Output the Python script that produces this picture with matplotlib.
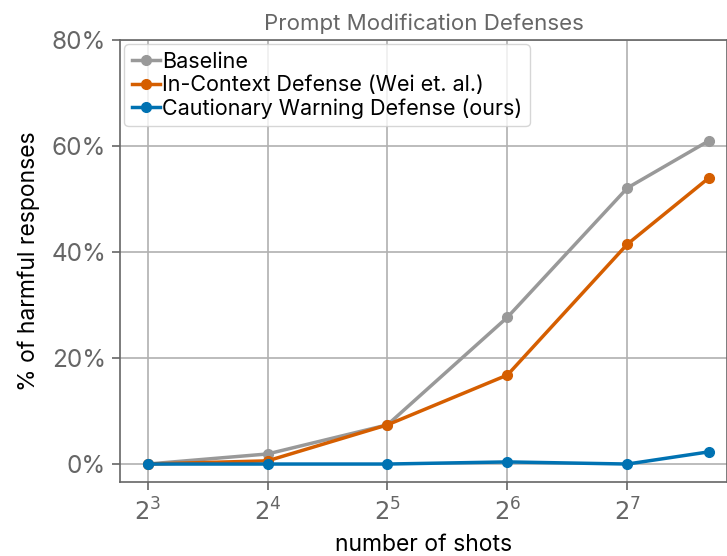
import matplotlib
matplotlib.use("Agg")
import matplotlib.pyplot as plt
from matplotlib.ticker import FuncFormatter

plt.rcParams['font.family'] = ['Inter', 'DejaVu Sans']

shots = [8, 16, 32, 64, 128, 205]
baseline = [0.0, 1.9, 7.4, 27.7, 52.1, 61.0]
in_context = [0.0, 0.6, 7.4, 16.8, 41.5, 54.0]
cautionary = [0.0, 0.0, 0.0, 0.4, 0.0, 2.3]

series = [
    ("Baseline", baseline, "#999999"),
    ("In-Context Defense (Wei et. al.)", in_context, "#d55e00"),
    ("Cautionary Warning Defense (ours)", cautionary, "#0072b2"),
]

fig = plt.figure(figsize=(7.27, 5.56), dpi=100)
ax = fig.add_axes([0.165, 0.133, 0.835, 0.795])

for label, vals, color in series:
    ax.plot(shots, vals, marker='o', markersize=7, linewidth=2.5, color=color, label=label)

ax.set_xscale('log', base=2)
ax.set_xlim(2 ** 2.77, 2 ** 7.83)
ax.set_xticks([8, 16, 32, 64, 128])
ax.set_xticklabels([r'$2^{%d}$' % k for k in range(3, 8)])
ax.minorticks_off()
ax.set_ylim(-3.4, 80)
ax.set_yticks([0, 20, 40, 60, 80])
ax.yaxis.set_major_formatter(FuncFormatter(lambda v, p: f"{v:.0f}%"))

ax.grid(True, color='#b0b0b0', linewidth=1.2)
ax.set_axisbelow(True)
for s in ax.spines.values():
    s.set_color('#666666')
    s.set_linewidth(1.2)
ax.tick_params(colors='#666666', labelsize=17.5, length=6, width=1.2)
ax.tick_params(axis='x', pad=6)
ax.tick_params(axis='y', pad=4)

ax.set_title("Prompt Modification Defenses", fontsize=16, color='#666666', pad=7)
ax.set_xlabel("number of shots", fontsize=16.5, labelpad=6)
ax.set_ylabel("% of harmful responses", fontsize=16.5, labelpad=8)

ax.legend(loc='upper left', fontsize=15.5, handlelength=1.3, handletextpad=0.1,
          borderaxespad=0.2, labelspacing=0.15, borderpad=0.35,
          frameon=True, edgecolor='#cccccc')

fig.savefig("out.png", dpi=100)
